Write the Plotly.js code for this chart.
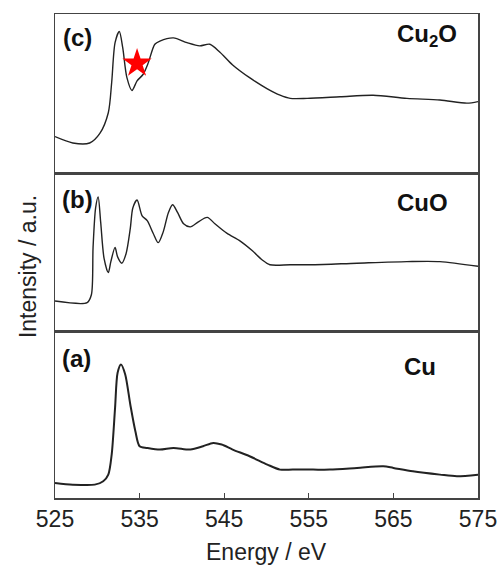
<!DOCTYPE html>
<html>
<head>
<meta charset="utf-8">
<script src="https://cdn.plot.ly/plotly-3.0.1.min.js"></script>
<style>html,body{margin:0;padding:0;background:#fff;}#chart{width:497px;height:567px;}</style>
</head>
<body>
<div id="chart"></div>
<script>
// Panel (c) Cu2O
const energyCu2O = [525, 527.1, 529.1, 530.3, 531.3, 531.7, 532.1, 532.6, 533.0, 533.5, 534.1, 534.7, 535.4, 536.0, 536.8, 537.4, 539.0, 540.6, 542.1, 543.3, 544.5, 546.0, 548.0, 550.1, 551.6, 552.8, 554.8, 558.7, 562.6, 566.6, 570.5, 573.7, 575];
const intensityCu2O = [0.23, 0.19, 0.19, 0.25, 0.38, 0.57, 0.82, 0.89, 0.79, 0.60, 0.52, 0.58, 0.62, 0.69, 0.81, 0.83, 0.85, 0.82, 0.80, 0.81, 0.76, 0.68, 0.60, 0.53, 0.49, 0.47, 0.47, 0.48, 0.49, 0.47, 0.46, 0.44, 0.45];
const starEnergy = [534.7];
const starIntensity = [0.69];

// Panel (b) CuO
const energyCuO = [525, 528.8, 529.3, 529.5, 529.8, 530.1, 530.4, 530.8, 531.3, 531.6, 532.1, 532.4, 532.9, 533.4, 533.9, 534.2, 534.7, 535.3, 535.9, 536.6, 537.2, 537.8, 538.4, 538.9, 539.5, 540.2, 541.0, 541.9, 543.0, 543.9, 545.3, 546.9, 548.3, 549.5, 550.4, 552.8, 555.5, 560.7, 566.6, 570.5, 575];
const intensityCuO = [0.19, 0.18, 0.23, 0.53, 0.78, 0.85, 0.69, 0.46, 0.37, 0.44, 0.53, 0.47, 0.43, 0.49, 0.65, 0.78, 0.83, 0.73, 0.70, 0.62, 0.56, 0.63, 0.75, 0.80, 0.75, 0.68, 0.66, 0.69, 0.72, 0.68, 0.62, 0.57, 0.51, 0.45, 0.42, 0.42, 0.42, 0.43, 0.44, 0.44, 0.41];

// Panel (a) Cu
const energyCu = [525, 527.1, 529.7, 530.7, 531.3, 531.7, 532.1, 532.4, 532.8, 533.3, 533.9, 534.5, 535.0, 535.9, 537.4, 539.0, 541.0, 542.5, 543.7, 544.7, 546.0, 548.0, 550.1, 551.6, 553.1, 555.5, 557.5, 560.7, 563.8, 565.0, 567.3, 570.5, 572.5, 575];
const intensityCu = [0.09, 0.08, 0.08, 0.10, 0.14, 0.26, 0.54, 0.75, 0.80, 0.74, 0.56, 0.40, 0.31, 0.30, 0.29, 0.30, 0.29, 0.31, 0.33, 0.32, 0.29, 0.25, 0.20, 0.17, 0.17, 0.17, 0.17, 0.18, 0.19, 0.18, 0.16, 0.14, 0.13, 0.14];

const xTicks = [525, 535, 545, 555, 565, 575];
const panelLabels = ['(a)', '(b)', '(c)'];
const sampleNames = ['Cu', 'CuO', 'Cu<sub>2</sub>O'];

const lineCol = '#222';
const traces = [
  {x: energyCu, y: intensityCu, xaxis: 'x', yaxis: 'y', mode: 'lines', line: {color: lineCol, width: 2, shape: 'spline', smoothing: 0.8}, hoverinfo: 'skip'},
  {x: energyCuO, y: intensityCuO, xaxis: 'x2', yaxis: 'y2', mode: 'lines', line: {color: lineCol, width: 1.4, shape: 'spline', smoothing: 0.8}, hoverinfo: 'skip'},
  {x: energyCu2O, y: intensityCu2O, xaxis: 'x3', yaxis: 'y3', mode: 'lines', line: {color: lineCol, width: 1.4, shape: 'spline', smoothing: 0.8}, hoverinfo: 'skip'},
  {x: starEnergy, y: starIntensity, xaxis: 'x3', yaxis: 'y3', mode: 'markers', marker: {symbol: 'star', size: 22, color: '#ff0000', line: {width: 0}}, hoverinfo: 'skip'}
];

const frame = '#444';
const fnt = 'Liberation Sans, Arial, sans-serif';
const xBase = {range: [525, 575], showline: true, linecolor: frame, linewidth: 1.5, mirror: true, showgrid: false, zeroline: false};
const yBase = {range: [0, 1], showline: true, linecolor: frame, linewidth: 1.5, mirror: true, showgrid: false, zeroline: false, showticklabels: false, ticks: ''};

const layout = {
  width: 497, height: 567,
  margin: {l: 55, r: 19, t: 14, b: 69},
  paper_bgcolor: '#fff', plot_bgcolor: '#fff',
  showlegend: false,
  font: {family: fnt, color: '#222'},
  xaxis: Object.assign({}, xBase, {anchor: 'y', tickvals: xTicks, ticktext: xTicks.map(String), ticks: 'inside', ticklen: 5, tickwidth: 1.3, tickcolor: frame, ticklabeloverflow: 'allow', tickfont: {size: 23, family: fnt, color: '#222'}}),
  xaxis2: Object.assign({}, xBase, {anchor: 'y2', showticklabels: false, ticks: ''}),
  xaxis3: Object.assign({}, xBase, {anchor: 'y3', showticklabels: false, ticks: ''}),
  yaxis: Object.assign({}, yBase, {domain: [0, 0.345], anchor: 'x'}),
  yaxis2: Object.assign({}, yBase, {domain: [0.345, 0.671], anchor: 'x2'}),
  yaxis3: Object.assign({}, yBase, {domain: [0.671, 1], anchor: 'x3'}),
  annotations: [
    {text: 'Energy / eV', xref: 'paper', yref: 'paper', x: 0.5, y: -0.112, showarrow: false, xanchor: 'center', yanchor: 'middle', font: {size: 23, family: fnt, color: '#222'}},
    {text: 'Intensity / a.u.', xref: 'paper', yref: 'paper', x: -0.064, y: 0.479, textangle: -90, showarrow: false, xanchor: 'center', yanchor: 'middle', font: {size: 23, family: fnt, color: '#222'}},
    {text: '<b>' + panelLabels[2] + '</b>', xref: 'paper', yref: 'paper', x: 0.014, y: 0.952, showarrow: false, xanchor: 'left', yanchor: 'middle', font: {size: 24, family: fnt, color: '#111'}},
    {text: '<b>' + sampleNames[2] + '</b>', xref: 'paper', yref: 'paper', x: 0.804, y: 0.955, showarrow: false, xanchor: 'left', yanchor: 'middle', font: {size: 24, family: fnt, color: '#111'}},
    {text: '<b>' + panelLabels[1] + '</b>', xref: 'paper', yref: 'paper', x: 0.012, y: 0.616, showarrow: false, xanchor: 'left', yanchor: 'middle', font: {size: 24, family: fnt, color: '#111'}},
    {text: '<b>' + sampleNames[1] + '</b>', xref: 'paper', yref: 'paper', x: 0.804, y: 0.610, showarrow: false, xanchor: 'left', yanchor: 'middle', font: {size: 24, family: fnt, color: '#111'}},
    {text: '<b>' + panelLabels[0] + '</b>', xref: 'paper', yref: 'paper', x: 0.012, y: 0.289, showarrow: false, xanchor: 'left', yanchor: 'middle', font: {size: 24, family: fnt, color: '#111'}},
    {text: '<b>' + sampleNames[0] + '</b>', xref: 'paper', yref: 'paper', x: 0.820, y: 0.271, showarrow: false, xanchor: 'left', yanchor: 'middle', font: {size: 24, family: fnt, color: '#111'}}
  ]
};

Plotly.newPlot('chart', traces, layout, {displayModeBar: false, staticPlot: true});
</script>
</body>
</html>
